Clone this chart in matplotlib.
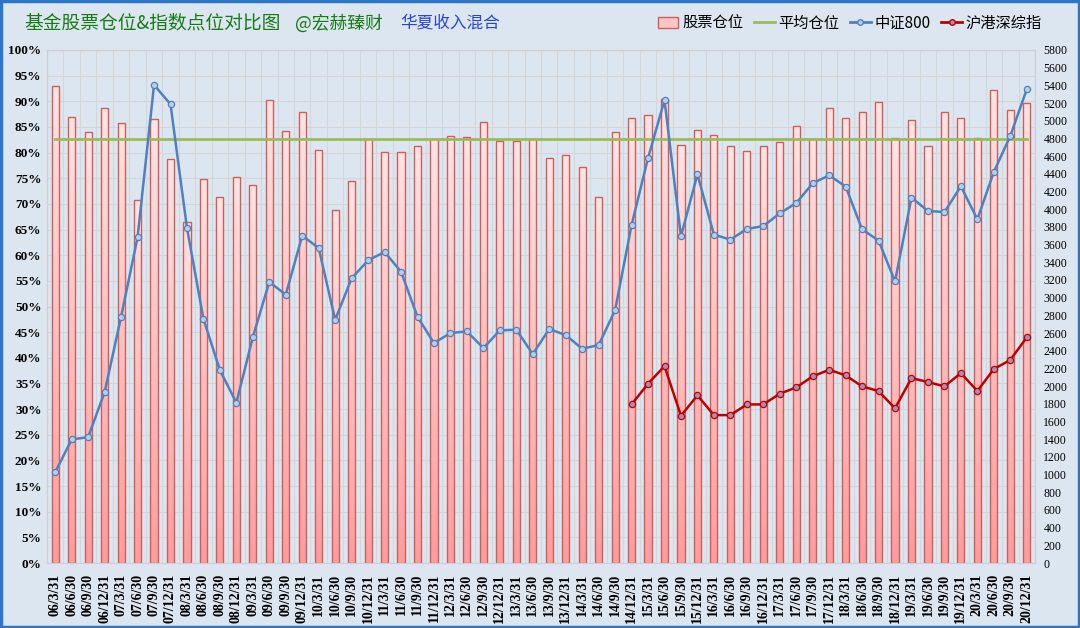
import numpy as np
import matplotlib
matplotlib.use("Agg")
import matplotlib.pyplot as plt
from matplotlib.patches import Rectangle
from matplotlib.lines import Line2D

plt.rcParams['font.family'] = ['Noto Sans CJK SC', 'DejaVu Sans']

# quarter-end labels, 2006Q1 .. 2020Q4
dates = []
for y in range(6, 21):
    for md in ("3/31", "6/30", "9/30", "12/31"):
        dates.append(f"{y:02d}/{md}")

# stock position (%) per quarter
stock_pos = [93.0, 86.9, 84.0, 88.6, 85.7, 70.8, 86.5, 78.7, 66.5, 74.9,
             71.3, 75.2, 73.6, 90.2, 84.3, 87.9, 80.5, 68.9, 74.4, 82.7,
             80.1, 80.2, 81.3, 82.7, 83.3, 83.1, 86.0, 82.3, 82.3, 82.6,
             79.0, 79.5, 77.1, 71.4, 84.1, 86.8, 87.3, 90.4, 81.5, 84.5,
             83.5, 81.2, 80.4, 81.3, 82.1, 85.1, 82.7, 88.6, 86.8, 87.9,
             89.9, 82.8, 86.4, 81.3, 87.9, 86.7, 82.9, 92.3, 88.4, 89.6]
avg_pos = 82.65

# CSI 800 index level
csi800 = [1027, 1397, 1423, 1932, 2785, 3682, 5405, 5187, 3787, 2760,
          2181, 1812, 2554, 3177, 3034, 3701, 3561, 2750, 3218, 3422,
          3516, 3294, 2783, 2487, 2600, 2619, 2430, 2630, 2638, 2362,
          2645, 2577, 2423, 2464, 2858, 3821, 4579, 5232, 3693, 4395,
          3713, 3656, 3776, 3810, 3953, 4070, 4293, 4383, 4256, 3773,
          3645, 3184, 4131, 3980, 3968, 4259, 3886, 4421, 4828, 5356]

# SH-HK-SZ composite, starts at 14/12/31
hgs_start = 35
hgs = [1793, 2027, 2226, 1665, 1895, 1672, 1672, 1793, 1793, 1914,
       1985, 2110, 2185, 2121, 1997, 1944, 1748, 2091, 2046, 1997,
       2147, 1944, 2193, 2295, 2551]

BG = "#dce6f1"
BAR_EDGE = "#c9605c"
BLUE = "#4f81bd"
RED = "#c00000"
GREEN = "#9bbb59"

fig = plt.figure(figsize=(10.8, 6.28), dpi=100, facecolor=BG)
ax = fig.add_axes([47 / 1080, 1 - 563 / 628, 988 / 1080, 513 / 628])
ax.set_facecolor(BG)
ax2 = ax.twinx()

x = np.arange(len(dates))
w = 0.43

# gradient bars: light at top, deeper pink at bottom
grad = np.linspace(0, 1, 256).reshape(-1, 1)
cmap = matplotlib.colors.LinearSegmentedColormap.from_list("pk", ["#ff9c9c", "#ffe4e4"])
bars = ax.bar(x, stock_pos, width=w, facecolor="none", edgecolor=BAR_EDGE,
              linewidth=1.0, zorder=3)
for b in bars:
    bx, by = b.get_x(), b.get_y()
    im = ax.imshow(grad, cmap=cmap, aspect="auto", origin="lower",
                   extent=[bx, bx + b.get_width(), by, by + b.get_height()],
                   zorder=2)
    im.set_clip_path(b)

ax.plot([x[0], x[-1]], [avg_pos, avg_pos], color=GREEN, lw=2, zorder=4)

ax.set_xlim(-0.5, len(dates) - 0.5)
ax.set_ylim(0, 100)
ax.set_yticks(np.arange(0, 101, 5))
ax.set_yticklabels([f"{v}%" for v in range(0, 101, 5)],
                   fontfamily="Liberation Serif", fontweight="bold", fontsize=9.5)
ax.set_xticks(x)
ax.set_xticklabels(dates, rotation=90, fontfamily="Liberation Serif",
                   fontweight="bold", fontsize=10)
ax.set_xticks(np.arange(-0.5, len(dates)), minor=True)
ax.grid(True, which="minor", axis="x", color="#d6d6d6", lw=0.8, zorder=0)
ax.grid(True, which="major", axis="y", color="#d6d6d6", lw=0.8, zorder=0)
ax.tick_params(axis="both", which="both", length=0, pad=4)
ax.tick_params(axis="x", pad=8)
ax.set_axisbelow(True)

# index lines on the right axis
ax2.plot(x, csi800, color=BLUE, lw=1.8, marker="o", ms=4.5,
         mfc="#b9cde5", mec=BLUE, mew=0.9, zorder=5)
ax2.plot(x[hgs_start:], hgs, color=RED, lw=1.8, marker="o", ms=4.5,
         mfc="#a68fb5", mec=RED, mew=0.9, zorder=5)
ax2.set_ylim(0, 5800)
ax2.set_yticks(np.arange(0, 5801, 200))
ax2.set_yticklabels([str(v) for v in range(0, 5801, 200)],
                    fontfamily="Liberation Serif", fontsize=8.5)
ax2.tick_params(axis="y", length=0, pad=6)

for a in (ax, ax2):
    for s in a.spines.values():
        s.set_color("#d0d0d0")
        s.set_linewidth(0.8)

# title
fig.text(24 / 1080, 1 - 23 / 628, "基金股票仓位&指数点位对比图", color="#177a17",
         fontsize=13.5, va="center", ha="left")
fig.text(295 / 1080, 1 - 23 / 628, "@宏赫臻财", color="#177a17",
         fontsize=12.8, va="center", ha="left")
fig.text(400 / 1080, 1 - 23 / 628, "华夏收入混合", color="#2a47c8",
         fontsize=12, va="center", ha="left")

handles = [
    Rectangle((0, 0), 1, 1, facecolor="#ffc4c4", edgecolor=BAR_EDGE, lw=1),
    Line2D([], [], color=GREEN, lw=2),
    Line2D([], [], color=BLUE, lw=2, marker="o", ms=4, mfc="#b9cde5", mec=BLUE),
    Line2D([], [], color=RED, lw=2, marker="o", ms=4, mfc="#a68fb5", mec=RED),
]
fig.legend(handles, ["股票仓位", "平均仓位", "中证800", "沪港深综指"],
           loc="center right", bbox_to_anchor=(1042 / 1080, 1 - 23 / 628),
           ncol=4, frameon=False, fontsize=11, handlelength=1.35,
           handleheight=0.7, handletextpad=0.25, columnspacing=0.7,
           borderpad=0, borderaxespad=0)

fig.patches.append(Rectangle((0.001, 0.002), 0.998, 0.996, transform=fig.transFigure,
                             fill=False, edgecolor="#2e75c6", lw=2.5))

fig.savefig("out.png", dpi=100, facecolor=BG)
